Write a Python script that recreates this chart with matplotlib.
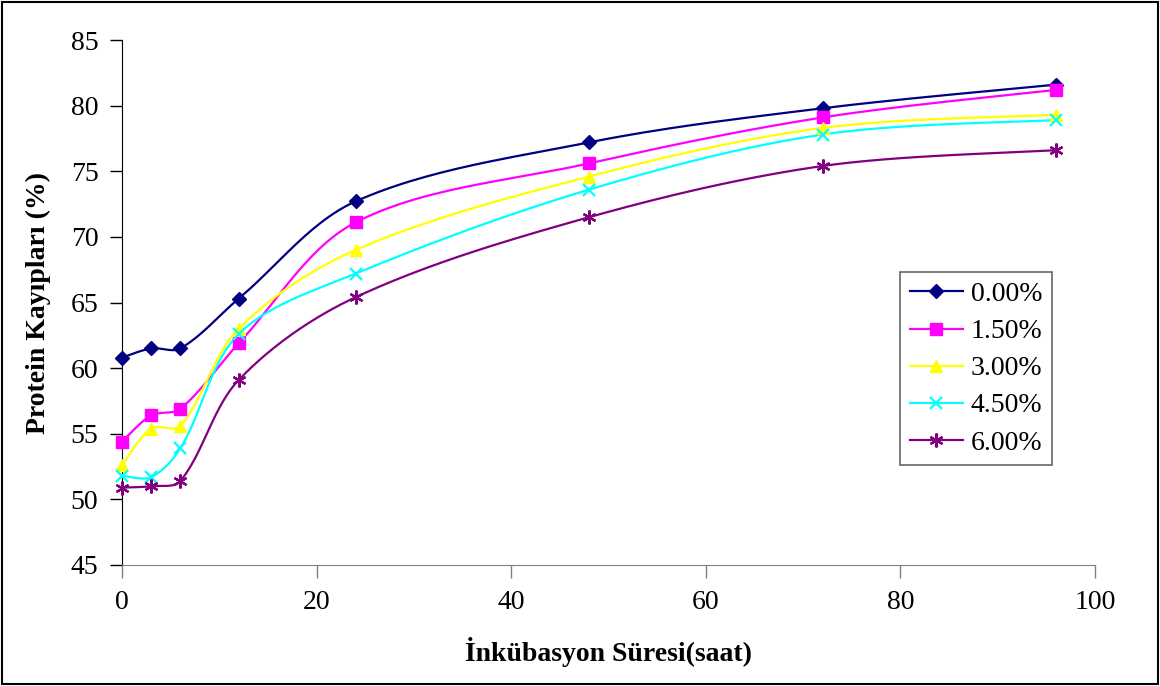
import numpy as np
import matplotlib
matplotlib.use("Agg")
import matplotlib.pyplot as plt
from matplotlib.patches import Rectangle

hours = [0, 3, 6, 12, 24, 48, 72, 96]
s000 = [60.8, 61.5, 61.5, 65.3, 72.7, 77.2, 79.8, 81.6]
s150 = [54.4, 56.4, 56.9, 61.9, 71.1, 75.6, 79.1, 81.2]
s300 = [52.6, 55.4, 55.6, 63.0, 69.0, 74.6, 78.3, 79.3]
s450 = [51.8, 51.7, 53.9, 62.6, 67.2, 73.6, 77.8, 78.9]
s600 = [50.9, 51.0, 51.4, 59.1, 65.4, 71.5, 75.4, 76.6]
labels = ["0.00%", "1.50%", "3.00%", "4.50%", "6.00%"]
series = [s000, s150, s300, s450, s600]
colors = ["#000080", "#FF00FF", "#FFFF00", "#00FFFF", "#800080"]
markers = ["D", "s", "^", "x", (6, 2, 0)]
msizes = [7, 8, 9, 9, 10]

plt.rcParams['font.family'] = ['Liberation Serif', 'DejaVu Serif']

fig = plt.figure(figsize=(11.6, 6.86), dpi=100)
ax = fig.add_axes([122/1160, 1 - 565/686, (1095-122)/1160, (565-40)/686])

# screen scale factors for smoothing (px per unit)
SX, SY = 9.73, 13.13


def smooth(x, y, n=30):
    P = np.column_stack([np.array(x) * SX, np.array(y) * SY])
    N = len(P)
    out = [P[0]]
    for i in range(N - 1):
        p0 = P[i - 1] if i > 0 else P[i]
        p1, p2 = P[i], P[i + 1]
        p3 = P[i + 2] if i + 2 < N else P[i + 1]
        L01 = np.linalg.norm(p1 - p0)
        L12 = np.linalg.norm(p2 - p1)
        L23 = np.linalg.norm(p3 - p2)
        f1 = L12 / (L01 + L12) / 3 if L01 > 0 else 1 / 6
        f2 = L12 / (L12 + L23) / 3 if L23 > 0 else 1 / 6
        c1 = p1 + (p2 - p0) * f1
        c2 = p2 - (p3 - p1) * f2
        t = np.linspace(0, 1, n)[1:, None]
        b = ((1 - t) ** 3) * p1 + 3 * ((1 - t) ** 2) * t * c1 + 3 * (1 - t) * t ** 2 * c2 + t ** 3 * p2
        out.extend(b)
    out = np.array(out)
    return out[:, 0] / SX, out[:, 1] / SY


for lab, ys, c, m, ms in zip(labels, series, colors, markers, msizes):
    sx, sy = smooth(hours, ys)
    ax.plot(sx, sy, color=c, lw=1.6, zorder=2, clip_on=False)
    mew = 1.6 if m in ("x",) or isinstance(m, tuple) else 1
    ax.plot(hours, ys, linestyle='none', marker=m, color=c, ms=ms, mew=mew, zorder=3, clip_on=False)
    ax.plot([], [], color=c, lw=1.6, marker=m, ms=ms, mew=mew, label=lab)

ax.set_xlim(0, 100)
ax.set_ylim(45, 85)
ax.set_xticks(np.arange(0, 101, 20))
ax.set_yticks(np.arange(45, 86, 5))
ax.tick_params(direction='out', length=9, width=1, labelsize=20)
ax.tick_params(axis='x', pad=9, color='#808080')
ax.tick_params(axis='y', pad=8)
for s in ['top', 'right']:
    ax.spines[s].set_visible(False)
ax.spines['left'].set_color('black')
ax.spines['bottom'].set_color('#808080')

ax.set_xlabel("İnkübasyon Süresi(saat)", fontsize=20, fontweight='bold', labelpad=16)
ax.set_ylabel("Protein Kayıpları (%)", fontsize=20, fontweight='bold', labelpad=14)

leg = ax.legend(loc='upper left', bbox_to_anchor=((900-122)/973, (565-272)/525),
                fontsize=20, frameon=True, fancybox=False, edgecolor='#404040',
                handlelength=1.9, borderpad=0.35, labelspacing=0.42, handletextpad=0.3,
                borderaxespad=0)
leg.get_frame().set_linewidth(1.2)

fig.patches.append(Rectangle((2/1160, 2/686), 1 - 4/1160, 1 - 4/686, transform=fig.transFigure,
                             fill=False, edgecolor='black', lw=1.5))

fig.savefig("out.png", dpi=100)
